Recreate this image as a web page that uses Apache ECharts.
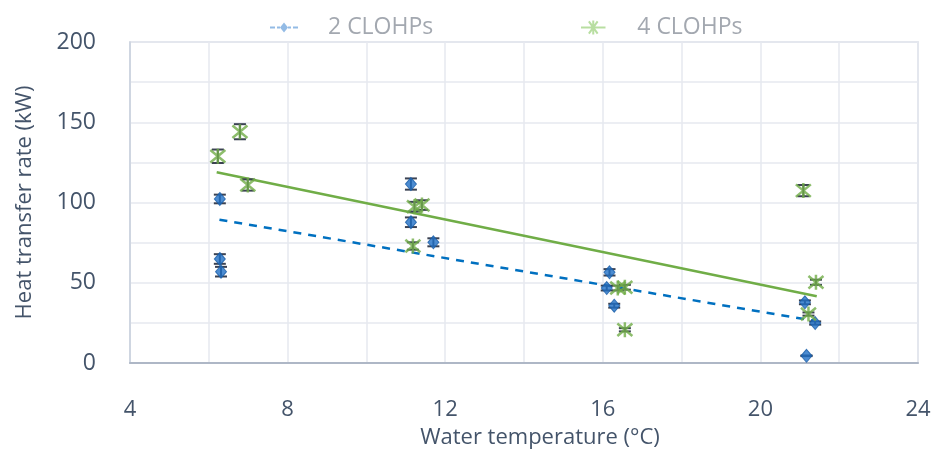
<!DOCTYPE html>
<html>
<head>
<meta charset="utf-8">
<script src="https://cdn.jsdelivr.net/npm/echarts@6/dist/echarts.min.js"></script>
<style>
  html, body { margin: 0; padding: 0; background: #ffffff; }
  #chart { width: 934px; height: 454px; }
</style>
</head>
<body>
<div id="chart"></div>
<script>
// Heat transfer rate vs water temperature, two loop configurations
const temp2 = [6.28, 6.28, 6.31, 11.13, 11.13, 11.70, 16.17, 16.10, 16.29, 21.13, 21.39, 21.17];
const heat2 = [102.2, 64.8, 56.9, 111.5, 87.7, 75.2, 56.5, 46.7, 35.7, 37.8, 24.9, 4.5];
const err2  = [2.7, 3.0, 3.0, 3.5, 3.0, 2.5, 2.0, 1.5, 1.2, 1.2, 1.0, 0.2];

const temp4 = [6.23, 6.79, 6.99, 11.22, 11.41, 11.18, 16.38, 16.56, 16.56, 21.09, 21.41, 21.22];
const heat4 = [128.8, 144.1, 110.9, 97.4, 98.4, 72.9, 46.7, 47.2, 20.7, 107.4, 50.3, 30.5];
const err4  = [4.2, 4.7, 3.5, 3.0, 3.0, 2.3, 1.5, 1.5, 1.0, 3.5, 1.6, 1.0];

// Linear trend line end points
const trend2X = [6.27, 21.34];
const trend2Y = [89.3, 26.4];
const trend4X = [6.2, 21.43];
const trend4Y = [118.8, 41.6];

const xTicks = [4, 8, 12, 16, 20, 24];
const yTicks = [0, 50, 100, 150, 200];

const FONT = '"Open Sans", "Noto Sans", sans-serif';
const TEXT = '#44546a';
const BLUE = '#1f6fc5';
const GREEN = '#70ad47';

const zip = (xs, ys, es) => xs.map((x, i) => es ? [x, ys[i], es[i]] : [x, ys[i]]);

function errorBars(color) {
  return function (params, api) {
    const x = api.value(0), y = api.value(1), e = api.value(2);
    const hi = api.coord([x, y + e]);
    const lo = api.coord([x, y - e]);
    const half = 6;
    const style = { stroke: color, lineWidth: 2 };
    return {
      type: 'group',
      children: [
        { type: 'line', shape: { x1: hi[0], y1: hi[1], x2: lo[0], y2: lo[1] }, style },
        { type: 'line', shape: { x1: hi[0] - half, y1: hi[1], x2: hi[0] + half, y2: hi[1] }, style },
        { type: 'line', shape: { x1: lo[0] - half, y1: lo[1], x2: lo[0] + half, y2: lo[1] }, style }
      ]
    };
  };
}

const asterisk = 'path://M0,0L10,10M10,0L0,10M5,-1L5,11';
const legendBlueIcon = 'path://M0,5h5v2h-5zM7,5h3v2h-3zM14,1L18,6L14,11L10,6zM18,5h3v2h-3zM23,5h5v2h-5z';
const legendGreenIcon = 'path://M0,8L28,8M9,1L19,15M19,1L9,15M14,0L14,16';

const chart = echarts.init(document.getElementById('chart'), null, { renderer: 'canvas' });

const legendText = (name) => '{gap|}{t|' + name + '}';
const legendRich = {
  gap: { width: 25 },
  t: { fontFamily: FONT, fontSize: 23, color: '#a3a8b0' }
};

chart.setOption({
  backgroundColor: '#ffffff',
  animation: false,
  grid: {
    left: 130, right: 16, top: 42, bottom: 90,
    show: true, borderColor: '#d3d9e3', borderWidth: 1.5
  },
  legend: [
    {
      data: [{ name: '2 CLOHPs', icon: legendBlueIcon,
               itemStyle: { color: '#78aade', borderWidth: 0 } }],
      left: 270, top: 16, padding: 0, itemWidth: 28, itemHeight: 11,
      formatter: legendText, textStyle: { rich: legendRich }
    },
    {
      data: [{ name: '4 CLOHPs', icon: legendGreenIcon,
               itemStyle: { color: 'rgba(0,0,0,0)', borderColor: '#a6d68a', borderWidth: 2 } }],
      left: 580, top: 16, padding: 0, itemWidth: 28, itemHeight: 14,
      formatter: legendText, textStyle: { rich: legendRich }
    }
  ],
  xAxis: {
    type: 'value', min: xTicks[0], max: xTicks[xTicks.length - 1], interval: 4,
    name: 'Water temperature (°C)', nameLocation: 'middle', nameGap: 64,
    nameTextStyle: { fontFamily: FONT, fontSize: 22, color: TEXT, padding: [0, 0, 0, 32] },
    axisLine: { show: true, lineStyle: { color: '#aeb7c6', width: 2 } },
    axisTick: { show: false },
    axisLabel: { fontFamily: FONT, fontSize: 22, color: TEXT, margin: 36 },
    splitLine: { show: true, lineStyle: { color: '#e6e9ef', width: 1.5 } },
    minorTick: { show: false, splitNumber: 2 },
    minorSplitLine: { show: true, lineStyle: { color: '#e6e9ef', width: 1.5 } }
  },
  yAxis: {
    type: 'value', min: yTicks[0], max: yTicks[yTicks.length - 1], interval: 50,
    name: 'Heat transfer rate (kW)', nameLocation: 'middle', nameGap: 94,
    nameTextStyle: { fontFamily: FONT, fontSize: 22, color: TEXT },
    axisLine: { show: true, lineStyle: { color: '#c9d0dc', width: 1.5 } },
    axisTick: { show: false },
    axisLabel: { fontFamily: FONT, fontSize: 23, color: TEXT, margin: 34, padding: [0, 0, 8, 0] },
    splitLine: { show: true, lineStyle: { color: '#e6e9ef', width: 1.5 } },
    minorTick: { show: false, splitNumber: 2 },
    minorSplitLine: { show: true, lineStyle: { color: '#e6e9ef', width: 1.5 } }
  },
  series: [
    {
      name: 'trend 2', type: 'line', data: zip(trend2X, trend2Y),
      showSymbol: false, silent: true, z: 2,
      lineStyle: { color: '#0070c0', width: 2.5, type: [8, 7] }
    },
    {
      name: 'trend 4', type: 'line', data: zip(trend4X, trend4Y),
      showSymbol: false, silent: true, z: 2,
      lineStyle: { color: GREEN, width: 2.5 }
    },
    {
      name: 'err 2', type: 'custom', data: zip(temp2, heat2, err2),
      renderItem: errorBars('#3b4252'), z: 3, silent: true
    },
    {
      name: 'err 4', type: 'custom', data: zip(temp4, heat4, err4),
      renderItem: errorBars('#3b4252'), z: 3, silent: true
    },
    {
      name: '2 CLOHPs', type: 'scatter', data: zip(temp2, heat2), z: 4,
      symbol: 'diamond', symbolSize: [11, 13],
      itemStyle: { color: BLUE, borderColor: '#1a5ea8', borderWidth: 1 }
    },
    {
      name: '4 CLOHPs', type: 'scatter', data: zip(temp4, heat4), z: 5,
      symbol: asterisk, symbolSize: [15, 15],
      itemStyle: { color: 'rgba(0,0,0,0)', borderColor: GREEN, borderWidth: 2.5 }
    }
  ]
});
</script>
</body>
</html>
